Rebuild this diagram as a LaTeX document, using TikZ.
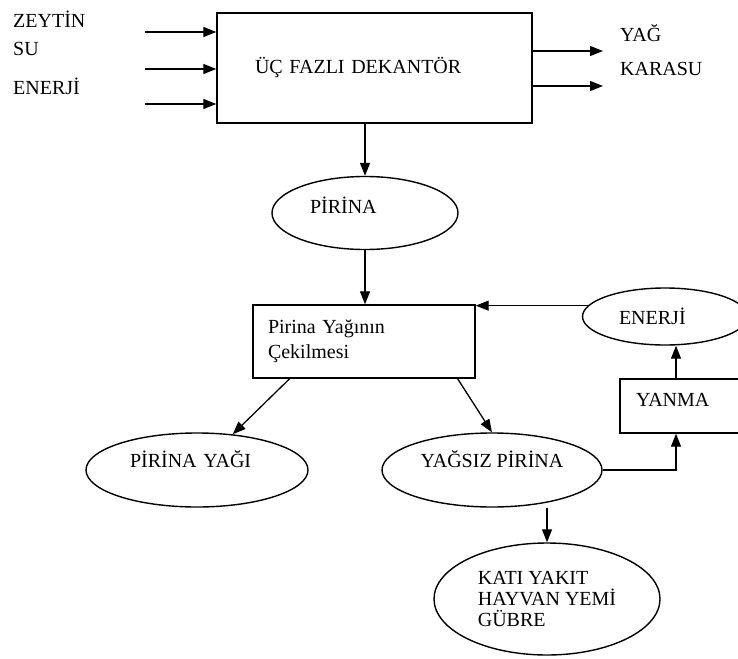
\documentclass[tikz,border=0pt]{standalone}
\usepackage{fontspec}
\setmainfont{Liberation Serif}
\usetikzlibrary{shapes.geometric,arrows.meta,calc}

\begin{document}
\begin{tikzpicture}[
  x=1pt, y=-1pt,
  font=\fontsize{20}{25}\selectfont,
  box/.style={draw, line width=1.4pt, inner ysep=0pt, align=left},
  oval/.style={draw, ellipse, line width=1.4pt, inner sep=0pt},
  lbl/.style={anchor=west, inner sep=0pt},
  arr/.style={-{Triangle[length=13pt,width=10pt]}, line width=1.3pt},
  lift/.style={text height=14pt, text depth=#1}
]
  \useasboundingbox (0,0) rectangle (738,658);
  \clip (0,0) rectangle (738,658);

  \node[box, minimum width=315pt, minimum height=110pt, inner xsep=38pt, text width=239pt] (dek) at (374.5,68) {ÜÇ FAZLI DEKANTÖR};
  \node[box, minimum width=222pt, minimum height=73pt, inner xsep=15pt, text width=192pt] (cek) at (364,341.5) {Pirina Yağının\\Çekilmesi};
  \node[box, minimum width=140pt, minimum height=54pt, inner xsep=16pt, text width=108pt, lift=12.8pt] (yan) at (690,406) {YANMA};

  \node[oval, minimum width=186pt, minimum height=73pt, text width=110pt, align=left, lift=12.8pt] (pir) at (365,213) {PİRİNA};
  \node[oval, minimum width=165pt, minimum height=57pt, text width=92pt, align=left] (ene) at (665,316.5) {ENERJİ};
  \node[oval, minimum width=222pt, minimum height=74pt, text width=134pt, align=left, lift=18.8pt] (pya) at (197,470) {PİRİNA YAĞI};
  \node[oval, minimum width=220pt, minimum height=74pt, lift=18.8pt] (yps) at (492,470) {YAĞSIZ PİRİNA};
  \node[oval, minimum width=226pt, minimum height=112pt, align=left, font=\fontsize{20}{21}\selectfont] (kat) at (547,599) {KATI YAKIT\\HAYVAN YEMİ\\GÜBRE};

  \node[lbl] (zey) at (13,19) {ZEYTİN};
  \node[lbl] (su) at (13,49) {SU};
  \node[lbl] (enj) at (13,86) {ENERJİ};
  \node[lbl] (yag) at (620,33) {YAĞ};
  \node[lbl] (kar) at (620,69) {KARASU};

  \coordinate (in1) at (145,32);
  \coordinate (in2) at (145,69);
  \coordinate (in3) at (145,104);
  \coordinate (out1) at (603,51);
  \coordinate (out2) at (603,86);
  \coordinate (bend) at (676,470);

  \foreach \i in {1,2,3}
    \draw[arr] (in\i) -- (in\i -| dek.west);
  \foreach \o in {1,2}
    \draw[arr] (dek.east |- out\o) -- (out\o);
  \draw[arr] (pir.north |- dek.south) -- (pir.north);
  \draw[arr] (pir.south) -- (pir.south |- cek.north);
  \draw[arr] ($(cek.south west)!0.167!(cek.south east)$) -- (pya.45);
  \draw[arr] ($(cek.south west)!0.919!(cek.south east)$) -- (yps.north);
  \draw[arr] (kat.north |- yps.south) -- (kat.north);
  \draw[arr] (yps.east) -- (bend) -- (bend |- yan.south);
  \draw[arr] (bend |- yan.north) -- (bend |- ene.south);
  \draw[arr] (ene.172) -- (ene.172 -| cek.east);
\end{tikzpicture}
\end{document}
